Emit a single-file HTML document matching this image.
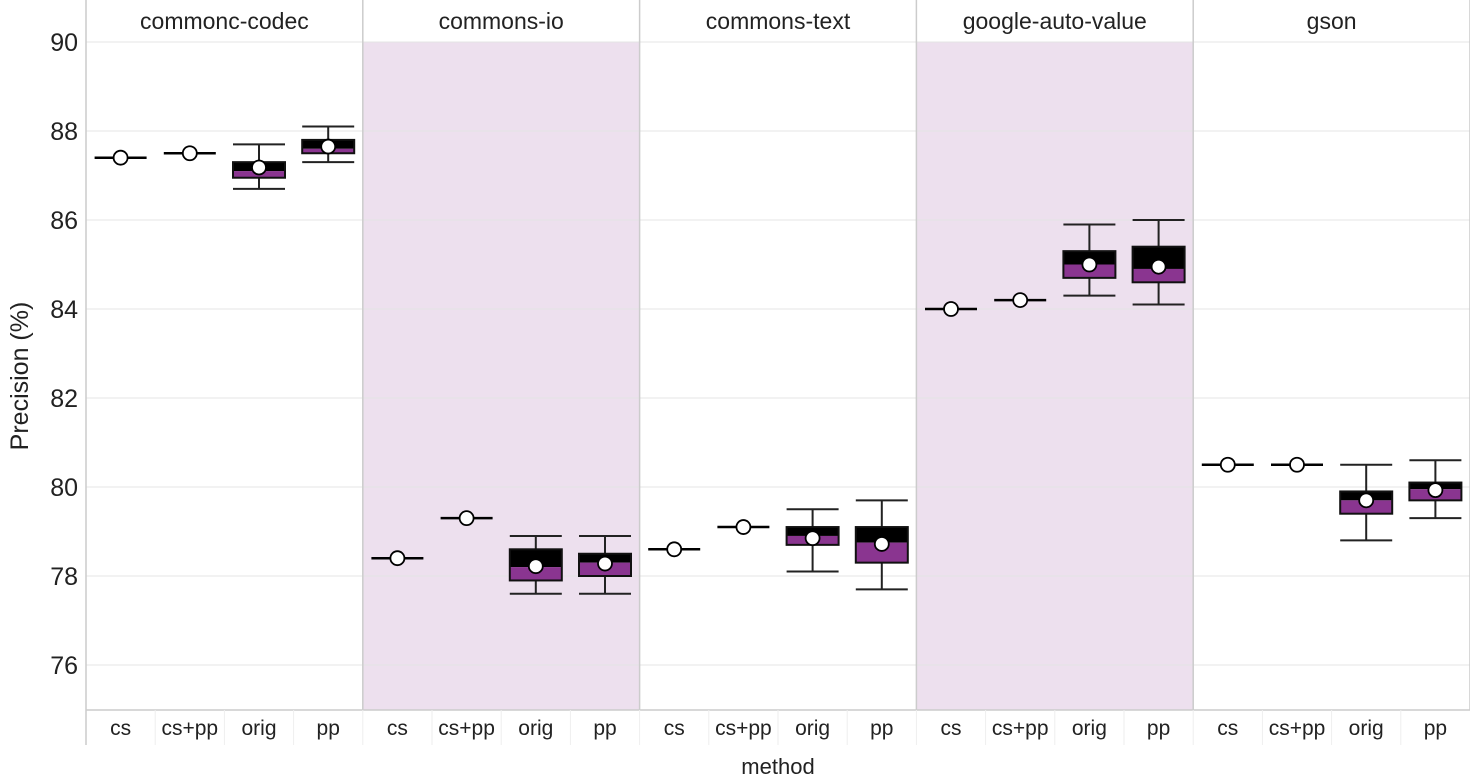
<!DOCTYPE html>
<html><head><meta charset="utf-8"><style>
body{margin:0;background:#fff}
svg text{font-family:"Liberation Sans",sans-serif;fill:#222}
</style></head><body>
<svg id="c" width="1470" height="779"></svg>
<script>
const panels=["commonc-codec","commons-io","commons-text","google-auto-value","gson"];
const methods=["cs","cs+pp","orig","pp"];
// per panel, per method: [low, q1, median, q3, high]
const boxStats=[
 [[87.4,87.4,87.4,87.4,87.4],[87.5,87.5,87.5,87.5,87.5],[86.7,86.95,87.1,87.3,87.7],[87.3,87.5,87.6,87.8,88.1]],
 [[78.4,78.4,78.4,78.4,78.4],[79.3,79.3,79.3,79.3,79.3],[77.6,77.9,78.2,78.6,78.9],[77.6,78.0,78.3,78.5,78.9]],
 [[78.6,78.6,78.6,78.6,78.6],[79.1,79.1,79.1,79.1,79.1],[78.1,78.7,78.9,79.1,79.5],[77.7,78.3,78.75,79.1,79.7]],
 [[84.0,84.0,84.0,84.0,84.0],[84.2,84.2,84.2,84.2,84.2],[84.3,84.7,85.0,85.3,85.9],[84.1,84.6,84.9,85.4,86.0]],
 [[80.5,80.5,80.5,80.5,80.5],[80.5,80.5,80.5,80.5,80.5],[78.8,79.4,79.7,79.9,80.5],[79.3,79.7,79.95,80.1,80.6]]
];
const means=[[87.4,87.5,87.18,87.65],[78.4,79.3,78.22,78.28],[78.6,79.1,78.85,78.72],[84.0,84.2,85.0,84.95],[80.5,80.5,79.7,79.93]];
const yTicks=[76,78,80,82,84,86,88,90];

const svg=document.getElementById('c');const NS="http://www.w3.org/2000/svg";
function el(t,a,p){const e=document.createElementNS(NS,t);for(const k in a)e.setAttribute(k,a[k]);(p||svg).appendChild(e);return e;}
const X0=86,PW=276.8,Y90=42,PX=44.5,YB=710;
const y=v=>Y90+(90-v)*PX;
const cx=(p,m)=>X0+PW*p+PW*(m+0.5)/4;
panels.forEach((name,p)=>{
  const x=X0+PW*p;
  const bg=el('rect',{x:x,y:Y90,width:PW,height:YB-Y90,fill:p%2?'#ede0ee':'#fff'});
  
  
  const t=el('text',{x:x+PW/2,y:29,'text-anchor':'middle','font-size':23});t.textContent=name;
  
  
});
yTicks.forEach(v=>{
  const g=el('line',{x1:X0,x2:1470,y1:y(v),y2:y(v),stroke:'#e4e4e4','stroke-width':1});
  
  
  const t=el('text',{x:78,y:y(v)+9,'text-anchor':'end','font-size':25});t.textContent=v;
  
  
});
for(let p=1;p<=5;p++){el('line',{x1:X0+PW*p,x2:X0+PW*p,y1:0,y2:YB,stroke:'#ccc','stroke-width':1.5});}
el('line',{x1:X0,x2:X0,y1:0,y2:745,stroke:'#ccc','stroke-width':1.5});
el('line',{x1:X0,x2:1470,y1:YB,y2:YB,stroke:'#ccc','stroke-width':1.5});
for(let i=1;i<20;i++){const xx=X0+PW*i/4;el('line',{x1:xx,x2:xx,y1:YB,y2:745,stroke:'#eee','stroke-width':1});}
const bw=52;
panels.forEach((name,p)=>{methods.forEach((m,j)=>{
  const s=boxStats[p][j],c=cx(p,j);
  const g=el('g',{});
  
  
  const lt=el('text',{x:c,y:735,'text-anchor':'middle','font-size':21},g);lt.textContent=m;
  if(s[4]>s[0]){
    el('line',{x1:c,x2:c,y1:y(s[4]),y2:y(s[0]),stroke:'#222','stroke-width':2},g);
    el('line',{x1:c-bw/2,x2:c+bw/2,y1:y(s[4]),y2:y(s[4]),stroke:'#222','stroke-width':2},g);
    el('line',{x1:c-bw/2,x2:c+bw/2,y1:y(s[0]),y2:y(s[0]),stroke:'#222','stroke-width':2},g);
    el('rect',{x:c-bw/2,y:y(s[3]),width:bw,height:y(s[2])-y(s[3]),fill:'#000'},g);
    el('rect',{x:c-bw/2,y:y(s[2]),width:bw,height:y(s[1])-y(s[2]),fill:'#8a3590'},g);
    el('rect',{x:c-bw/2,y:y(s[3]),width:bw,height:y(s[1])-y(s[3]),fill:'none',stroke:'#111','stroke-width':2},g);
  }else{
    el('line',{x1:c-bw/2,x2:c+bw/2,y1:y(s[2]),y2:y(s[2]),stroke:'#000','stroke-width':2.5},g);
  }
  el('circle',{cx:c,cy:y(means[p][j]),r:7,fill:'#fff',stroke:'#000','stroke-width':1.8},g);
});});
const yl=el('text',{x:28,y:376,'text-anchor':'middle','font-size':25,transform:'rotate(-90 28 376)'});yl.textContent='Precision (%)';


const xl=el('text',{x:778,y:774,'text-anchor':'middle','font-size':22});xl.textContent='method';


</script>
</body></html>
